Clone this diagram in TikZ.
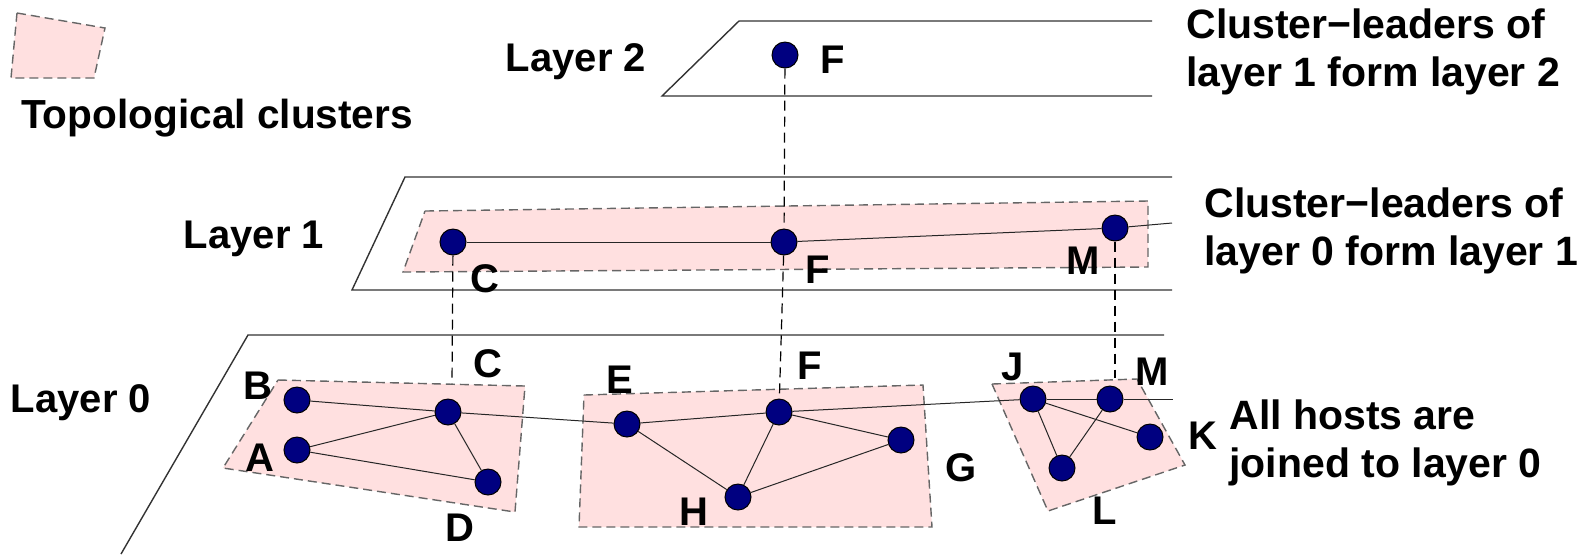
\documentclass[tikz,border=0pt]{standalone}
\usepackage{fontspec}
\setmainfont{Liberation Sans}
\definecolor{navy}{RGB}{0,0,128}
\definecolor{pinkfill}{RGB}{255,224,224}
\begin{document}
\begin{tikzpicture}[x=0.5pt,y=-0.5pt,
  host/.style={circle,fill=navy,draw=black,line width=0.5pt,minimum size=13pt,inner sep=0pt},
  lbl/.style={font=\fontsize{20}{24}\selectfont\bfseries,inner sep=0pt},
  txt/.style={font=\fontsize{20.5}{24}\selectfont\bfseries,inner sep=0pt,align=left,anchor=west},
  plane/.style={line width=0.7pt,draw=black!80},
  link/.style={line width=0.5pt,draw=black!85},
  vdash/.style={line width=0.6pt,draw=black,dash pattern=on 5pt off 3pt},
  cluster/.style={fill=pinkfill,draw=black!60,dash pattern=on 4.5pt off 2.5pt,line width=0.7pt}
]
\useasboundingbox (0,0) rectangle (1580,554);

% legend
\path[cluster] (17,13) -- (105,28) -- (94,78) -- (11,78) -- cycle;
\node[lbl,font=\fontsize{20.3}{24}\selectfont\bfseries,anchor=base] (legend) at (217,128) {Topological clusters};

% layer planes
\draw[plane] (1152,21) -- (739,21) -- (662,96) -- (1152,96);
\draw[plane] (1172,177) -- (405,177) -- (352,290) -- (1172,290);
\draw[plane] (1164,335) -- (248,335) -- (121,554);

% layer titles
\node[lbl,anchor=base] (lay2) at (576,71) {Layer 2};
\node[lbl,anchor=base] (lay1) at (254,248) {Layer 1};
\node[lbl,anchor=base] (lay0) at (81,412) {Layer 0};

% clusters
\path[cluster] (425,211) -- (1148,201) -- (1148,267) -- (403,272) -- cycle;
\path[cluster] (278,380) -- (525,386) -- (515,512) -- (223,468) -- cycle;
\path[cluster] (584,395) -- (923,385) -- (932,527) -- (579,527) -- cycle;
\path[cluster] (992,384) -- (1137,379) -- (1185,465) -- (1048,511) -- cycle;

% hosts
\node[host] (F2) at (785,55) {};
\node[host] (C1) at (453,242) {};
\node[host] (F1) at (784,242) {};
\node[host] (M1) at (1115,228) {};
\node[host] (B) at (297,400) {};
\node[host] (A) at (297,450) {};
\node[host] (C0) at (448,412) {};
\node[host] (D) at (488,482) {};
\node[host] (E) at (627,424) {};
\node[host] (F0) at (779,412) {};
\node[host] (G) at (901,440) {};
\node[host] (H) at (738,497) {};
\node[host] (J) at (1033,399) {};
\node[host] (M0) at (1110,399) {};
\node[host] (K) at (1150,437) {};
\node[host] (L) at (1062,468) {};

% free ends
\coordinate (e1) at (1172,223);
\coordinate (e0) at (1173,399);
\coordinate (c0top) at (452,384);
\coordinate (m0top) at (1115,378);

% links layer 1
\draw[link] (C1) -- (F1);
\draw[link] (F1) -- (M1);
\draw[link] (M1) -- (e1);
% links layer 0
\draw[link] (B) -- (C0);
\draw[link] (A) -- (C0);
\draw[link] (A) -- (D);
\draw[link] (C0) -- (D);
\draw[link] (C0) -- (E);
\draw[link] (E) -- (F0);
\draw[link] (E) -- (H);
\draw[link] (F0) -- (H);
\draw[link] (F0) -- (G);
\draw[link] (H) -- (G);
\draw[link] (F0) -- (J);
\draw[link] (J) -- (M0);
\draw[link] (M0) -- (e0);
\draw[link] (J) -- (K);
\draw[link] (J) -- (L);
\draw[link] (M0) -- (L);

% vertical dashed
\draw[vdash] (F2) -- (F1);
\draw[vdash] (F1) -- (F0);
\draw[vdash] (C1) -- (c0top);
\draw[vdash] (M1) -- (m0top);

% host labels
\node[lbl] (tF2) at (833,60) {F};
\node[lbl] (tC1) at (485,279) {C};
\node[lbl] (tF1) at (818,270) {F};
\node[lbl] (tM1) at (1083,261) {M};
\node[lbl] (tB) at (258,386) {B};
\node[lbl] (tA) at (260,458) {A};
\node[lbl] (tC0) at (488,364) {C};
\node[lbl] (tD) at (460,528) {D};
\node[lbl] (tE) at (620,380) {E};
\node[lbl] (tF0) at (810,366) {F};
\node[lbl] (tG) at (961,468) {G};
\node[lbl] (tH) at (694,512) {H};
\node[lbl] (tJ) at (1013,367) {J};
\node[lbl] (tM0) at (1152,372) {M};
\node[lbl] (tK) at (1203,436) {K};
\node[lbl] (tL) at (1105,511) {L};

% explanations
\node[txt] (x2) at (1186,52) {Cluster−leaders of\\layer 1 form layer 2};
\node[txt] (x1) at (1204,231) {Cluster−leaders of\\layer 0 form layer 1};
\node[txt] (x0) at (1229,443) {All hosts are\\joined to layer 0};
\end{tikzpicture}
\end{document}
